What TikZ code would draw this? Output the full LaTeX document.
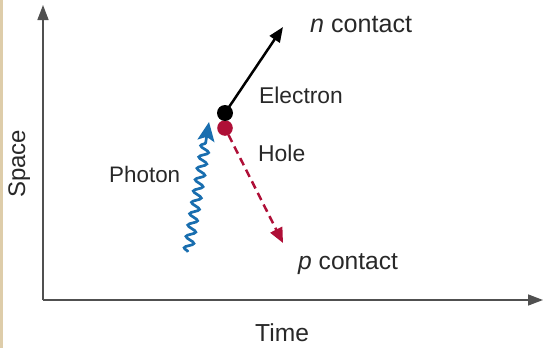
\documentclass[tikz,border=0pt]{standalone}
\usepackage{fontspec}
\setmainfont{Liberation Sans}
\usetikzlibrary{arrows.meta,decorations.pathmorphing}
\definecolor{axisgray}{RGB}{80,80,80}
\definecolor{txtgray}{RGB}{40,40,40}
\definecolor{holered}{RGB}{175,15,55}
\definecolor{photonblue}{RGB}{25,110,175}
\definecolor{beige}{RGB}{222,205,170}
\tikzset{
  lbl/.style={anchor=base west, inner sep=0pt, text=txtgray, font=\fontsize{#1}{24}\selectfont},
  axisline/.style={draw=axisgray, line width=1.5pt, -{Triangle[length=15pt,width=11pt]}},
  dot/.style={circle, inner sep=0pt, minimum size=#1},
}
\begin{document}
\begin{tikzpicture}[x=1pt,y=-1pt]
\useasboundingbox (0,0) rectangle (544,348);
\fill[beige] (0,0) rectangle (3.3,348);
% axes
\coordinate (O) at (43,300);
\coordinate (Ytop) at (43,5);
\coordinate (Xend) at (543,300);
\draw[axisline] (O) -- (Ytop);
\draw[axisline] (O) -- (Xend);
% dots
\node[dot=16pt] (e) at (225,113) {};
\node[dot=15pt] (h) at (225,128) {};
\coordinate (nc) at (283,27);
\coordinate (pc) at (283,243);
\draw[line width=2.5pt, -{Triangle[length=15pt,width=12pt]}] (e.center) -- (nc);
\draw[holered, line width=2.5pt, dash pattern=on 8pt off 5pt, -{Triangle[length=15pt,width=13pt]}] (h) -- (pc);
\fill[holered] (h.center) circle (7.8pt);
\fill[black] (e.center) circle (8pt);
% photon
\coordinate (ph0) at (188,252);
\coordinate (ph1) at (209,122);
\draw[photonblue, line width=2.7pt, decorate, decoration={snake, amplitude=4.5pt, segment length=11.5pt, post length=18pt}, -{Stealth[length=19pt,width=17pt,inset=4pt]}] (ph0) -- (ph1);
% labels
\node[lbl=25.1] (tn) at (310,32) {\textit{n} contact};
\node[lbl=22.8] (te) at (259,103) {Electron};
\node[lbl=22.9] (th) at (258,161) {Hole};
\node[lbl=22.4] (tph) at (109,182) {Photon};
\node[lbl=24.6] (tp) at (298,269) {\textit{p} contact};
\node[lbl=24.6] (tt) at (255,341) {Time};
\node[lbl=24, rotate=90] (ts) at (25,198) {Space};
\end{tikzpicture}
\end{document}
